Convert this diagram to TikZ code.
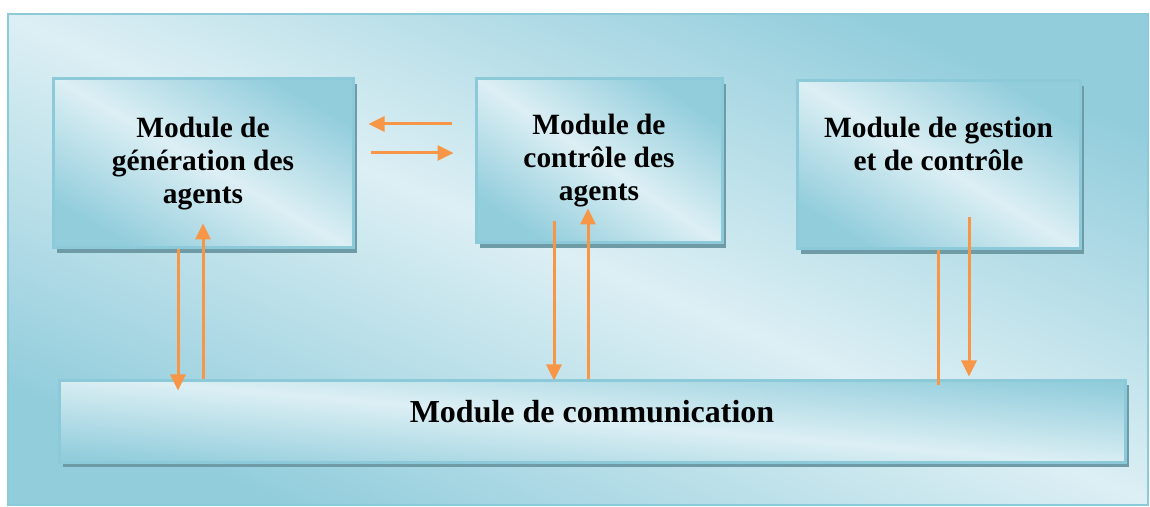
\documentclass[tikz,border=0pt]{standalone}
\usepackage{fontspec}
\setmainfont{Liberation Serif}
\usetikzlibrary{arrows.meta,shadows}
\definecolor{aquadark}{HTML}{92CDDC}
\definecolor{aqualight}{HTML}{DCEFF4}
\definecolor{aquaedge}{HTML}{8CCADA}
\definecolor{aquashadow}{HTML}{6E9BA6}
\definecolor{flowc}{HTML}{F79646}
\begin{document}
\begin{tikzpicture}[x=0.5pt,y=-0.5pt,>={Triangle[length=8pt,width=7.5pt]},
        aquashade/.style={top color=aquadark,bottom color=aquadark,
          middle color=aqualight,shading angle=#1},
        module/.style={draw=aquaedge,line width=1.5pt,aquashade=#1,
          drop shadow={shadow xshift=2pt,shadow yshift=-2.5pt,fill=aquashadow,opacity=1},
          align=center,font=\fontsize{14.7}{16.5}\selectfont\bfseries,inner sep=0pt},
        flow/.style={draw=flowc,line width=1.5pt}]
      \useasboundingbox (0,0) rectangle (1150,507);
      \node[draw=aquaedge,line width=1pt,aquashade=-23,minimum width=570pt,
        minimum height=245.5pt] (frame) at (578,259.5) {};
      \node[module=-30,minimum width=150pt,minimum height=84.5pt] (gen) at (203,163.5)
        {Module de\\ génération des\\ agents};
      \node[module=-34,minimum width=123pt,minimum height=82pt] (ctrl) at (599,161)
        {Module de\\ contrôle des\\ agents};
      \node[module=-31,minimum width=141.5pt,minimum height=84pt,text depth=21pt] (gest)
        at (938.5,165) {Module de gestion\\ et de contrôle};
      \node[module=-5,minimum width=533pt,minimum height=41pt,text depth=10pt,
        font=\fontsize{16}{19}\selectfont\bfseries] (comm)
        at (592,421) {Module de communication};
      \coordinate (r1) at (0,124);
      \coordinate (r2) at (0,153);
      \coordinate (c1) at (178,0);
      \coordinate (c2) at (203,0);
      \coordinate (c3) at (554,0);
      \coordinate (c4) at (588,0);
      \coordinate (c5) at (938,0);
      \coordinate (c6) at (969,0);
      \draw[flow,->,shorten <=11.5pt,shorten >=7pt] (ctrl.west |- r1) -- (gen.east |- r1);
      \draw[flow,->,shorten <=8pt,shorten >=10.5pt] (gen.east |- r2) -- (ctrl.west |- r2);
      \draw[flow,->,shorten >=-6pt] (gen.south -| c1) -- (comm.north -| c1);
      \draw[flow,->,shorten >=-13pt] (comm.north -| c2) -- (gen.south -| c2);
      \draw[flow,->,shorten <=-11.5pt,shorten >=-1pt] (ctrl.south -| c3) -- (comm.north -| c3);
      \draw[flow,->,shorten >=-18pt] (comm.north -| c4) -- (ctrl.south -| c4);
      \draw[flow,shorten >=-3pt] (gest.south -| c5) -- (comm.north -| c5);
      \draw[flow,->,shorten <=-16.5pt,shorten >=1pt] (gest.south -| c6) -- (comm.north -| c6);
    \end{tikzpicture}
\end{document}
